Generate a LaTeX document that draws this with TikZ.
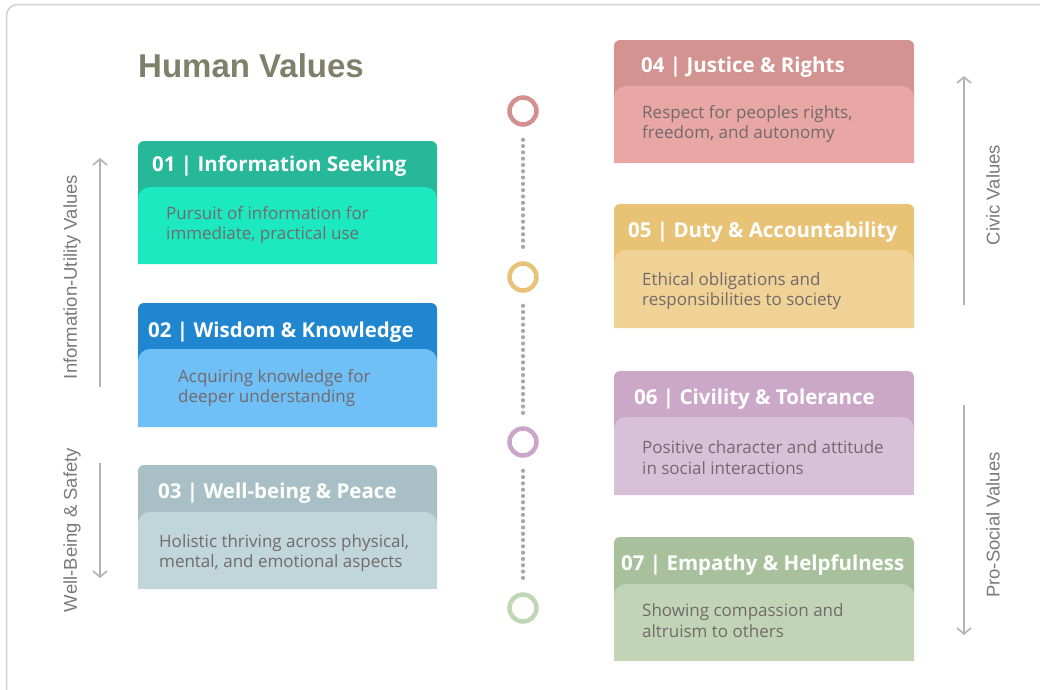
\documentclass[tikz,border=0pt]{standalone}
\usepackage{fontspec}
\setmainfont{Open Sans}
\newfontfamily\titlefont{Liberation Sans}
\newfontfamily\sidefont{Liberation Sans}
\usetikzlibrary{arrows.meta}
\definecolor{frameC}{HTML}{D2D2D2}
\definecolor{titleC}{HTML}{7E806A}
\definecolor{bodytxt}{HTML}{73696B}
\definecolor{sideC}{HTML}{7A7A7A}
\definecolor{arrowC}{HTML}{B4B4B4}
\definecolor{dotC}{HTML}{A8A8A8}
\definecolor{hA}{HTML}{27B899}\definecolor{bA}{HTML}{1DE9C0}
\definecolor{hB}{HTML}{1F86CF}\definecolor{bB}{HTML}{6EC0F7}
\definecolor{hC}{HTML}{A9BFC6}\definecolor{bC}{HTML}{C1D6DB}
\definecolor{hD}{HTML}{D29391}\definecolor{bD}{HTML}{E8A7A5}
\definecolor{hE}{HTML}{E8C275}\definecolor{bE}{HTML}{F0D296}
\definecolor{hF}{HTML}{CBA8C8}\definecolor{bF}{HTML}{D9C0D9}
\definecolor{hG}{HTML}{A9C09D}\definecolor{bG}{HTML}{C1D5B6}
\definecolor{cD}{HTML}{D4908E}\definecolor{cE}{HTML}{E8C277}
\definecolor{cF}{HTML}{CBA5C8}\definecolor{cG}{HTML}{BFD7B5}
\tikzset{
  hdrtext/.style={anchor=west,inner sep=0pt,text=white,font=\fontsize{20.5}{24}\selectfont\bfseries},
  bodytext/.style={anchor=west,inner sep=0pt,text=bodytxt,align=left,font=\fontsize{17}{20.8}\selectfont},
  sidetext/.style={inner sep=0pt,text=sideC,rotate=90,font=\sidefont\fontsize{18.5}{22}\selectfont},
  sidearrow/.style={draw=arrowC,line width=1.6pt,-{Straight Barb[length=6pt,width=14pt,line width=1.6pt]}},
  ring/.style={circle,draw=#1,line width=4.5pt,minimum size=27pt,inner sep=0pt,fill=white},
  dotline/.style={draw=dotC,line width=4.2pt,line cap=round,dash pattern=on 0pt off 6.3pt}
}
\newcommand{\card}[7]{% x1,x2,top,bodytop,bottom,hdr,body
  \fill[#6,rounded corners=6pt] (#1,#3) rectangle (#2,#4+20);
  \fill[#7] (#1,#5) {[rounded corners=12pt] -- (#1,#4) -- (#2,#4)} -- (#2,#5) -- cycle;
}
\begin{document}
\begin{tikzpicture}[x=1pt,y=-1pt]
\useasboundingbox (0,0) rectangle (1040,689);
\fill[white] (0,0) rectangle (1040,689);
% frame
\draw[frameC,line width=1.5pt,rounded corners=11pt] (6.5,720) -- (6.5,4.5) -- (1070,4.5);
% title
\node[anchor=base west,inner sep=0pt,text=titleC,font=\titlefont\fontsize{33}{36}\selectfont\bfseries] (title) at (138,77) {Human Values};
% cards left
\card{138}{437}{141}{187}{264}{hA}{bA}
\card{138}{437}{303}{349}{427}{hB}{bB}
\card{138}{437}{465}{512}{589}{hC}{bC}
% cards right
\card{614}{914}{40}{86}{163}{hD}{bD}
\card{614}{914}{204}{250}{328}{hE}{bE}
\card{614}{914}{371}{417}{495}{hF}{bF}
\card{614}{914}{537}{584}{661}{hG}{bG}
% header texts
\node[hdrtext] (h1) at (152,166) {01 | Information Seeking};
\node[hdrtext] (h2) at (148,332) {02 | Wisdom \& Knowledge};
\node[hdrtext] (h3) at (158,493) {03 | Well-being \& Peace};
\node[hdrtext] (h4) at (641,67) {04 | Justice \& Rights};
\node[hdrtext] (h5) at (628,232) {05 | Duty \& Accountability};
\node[hdrtext] (h6) at (634,399) {06 | Civility \& Tolerance};
\node[hdrtext] (h7) at (621,565) {07 | Empathy \& Helpfulness};
% body texts
\node[bodytext] (t1) at (166,225) {Pursuit of information for\\immediate, practical use};
\node[bodytext] (t2) at (178,388) {Acquiring knowledge for\\deeper understanding};
\node[bodytext] (t3) at (159,553) {Holistic thriving across physical,\\mental, and emotional aspects};
\node[bodytext] (t4) at (642,124) {Respect for peoples rights,\\freedom, and autonomy};
\node[bodytext] (t5) at (642,291) {Ethical obligations and\\responsibilities to society};
\node[bodytext] (t6) at (642,458) {Positive character and attitude\\in social interactions};
\node[bodytext] (t7) at (642,621) {Showing compassion and\\altruism to others};
% timeline
\node[ring=cD] (c4) at (523,111) {};
\node[ring=cE] (c5) at (523,277) {};
\node[ring=cF] (c6) at (523,442) {};
\node[ring=cG] (c7) at (523,608) {};
\draw[dotline] ([yshift=-13pt]c4.south) -- ([yshift=13pt]c5.north);
\draw[dotline] ([yshift=-13pt]c5.south) -- ([yshift=13pt]c6.north);
\draw[dotline] ([yshift=-13pt]c6.south) -- ([yshift=13pt]c7.north);
% side labels
\node[sidetext] (s1) at (72,277) {Information-Utility Values};
\node[sidetext] (s2) at (72,530) {Well-Being \& Safety};
\node[sidetext] (s3) at (993,195) {Civic Values};
\node[sidetext] (s4) at (993,525) {Pro-Social Values};
\coordinate (a1s) at (100,387); \coordinate (a1e) at (100,158);
\coordinate (a2s) at (100,463); \coordinate (a2e) at (100,578);
\coordinate (a3s) at (964,305); \coordinate (a3e) at (964,76);
\coordinate (a4s) at (964,405); \coordinate (a4e) at (964,635);
\draw[sidearrow] (a1s) -- (a1e);
\draw[sidearrow] (a2s) -- (a2e);
\draw[sidearrow] (a3s) -- (a3e);
\draw[sidearrow] (a4s) -- (a4e);
\end{tikzpicture}
\end{document}
